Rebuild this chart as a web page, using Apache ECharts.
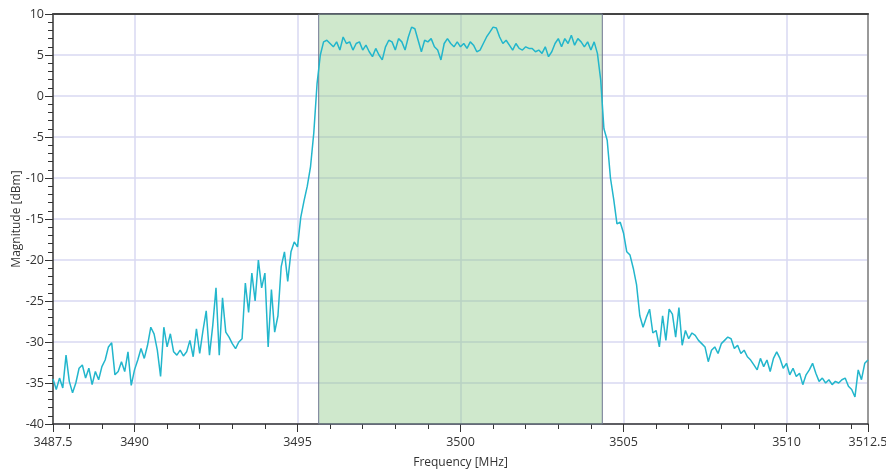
<!DOCTYPE html>
<html>
<head>
<meta charset="utf-8">
<title>Spectrum</title>
<script src="https://cdn.jsdelivr.net/npm/echarts@6/dist/echarts.min.js"></script>
<style>
  html, body { margin: 0; padding: 0; background: #fff; }
  #chart { width: 886px; height: 470px; }
</style>
</head>
<body>
<div id="chart"></div>
<script>
// sweep: start frequency and step in MHz
var freqStart = 3487.5;
var freqStep = 0.1;

var magnitude = [
    -34.5, -35.8, -34.4, -35.6, -31.6, -34.8, -36.2, -35.0, -33.2, -32.8,
    -34.4, -33.2, -35.2, -33.6, -34.6, -33.0, -32.2, -30.6, -30.1, -34.0,
    -33.6, -32.4, -33.6, -31.2, -35.3, -33.4, -32.2, -30.8, -32.0, -30.4,
    -28.2, -29.0, -31.0, -34.2, -28.2, -30.6, -29.0, -31.2, -31.6, -31.0,
    -31.7, -31.2, -29.8, -31.8, -28.4, -31.4, -28.6, -26.2, -31.6, -28.0,
    -23.4, -31.6, -24.6, -28.8, -29.4, -30.2, -30.8, -30.0, -29.6, -22.8,
    -26.4, -21.6, -25.0, -20.0, -23.4, -21.6, -30.6, -23.6, -28.8, -26.8,
    -20.8, -19.0, -22.6, -19.0, -17.8, -18.4, -14.8, -12.8, -11.0, -8.6,
    -4.5, 1.5, 5.0, 6.6, 6.8, 6.4, 6.0, 6.6, 5.6, 7.2,
    6.4, 6.6, 5.6, 6.4, 6.6, 5.6, 6.2, 5.4, 4.8, 5.8,
    5.0, 4.4, 6.0, 6.8, 6.6, 5.6, 7.0, 6.6, 5.6, 7.2,
    8.4, 8.2, 6.8, 5.4, 6.8, 6.6, 7.0, 6.0, 5.6, 4.4,
    6.4, 7.0, 6.4, 6.0, 6.6, 6.0, 6.4, 5.8, 6.6, 6.2,
    5.4, 5.6, 6.4, 7.2, 7.8, 8.4, 8.3, 7.2, 6.4, 6.8,
    6.2, 5.6, 6.4, 5.8, 5.6, 6.0, 5.8, 5.8, 5.4, 5.6,
    5.2, 6.0, 4.8, 5.4, 6.4, 7.0, 6.0, 7.0, 6.4, 7.4,
    6.2, 7.0, 6.6, 6.0, 6.6, 5.6, 6.6, 5.2, 2.0, -4.0,
    -5.4, -10.0, -12.6, -15.6, -15.4, -16.7, -19.0, -19.4, -21.0, -23.0,
    -26.8, -28.2, -27.0, -26.0, -28.9, -28.6, -30.6, -26.8, -29.8, -26.0,
    -26.6, -29.4, -25.8, -30.4, -28.6, -29.6, -28.9, -29.2, -29.8, -30.2,
    -30.6, -32.4, -31.0, -30.6, -31.4, -30.2, -29.8, -29.4, -29.6, -30.8,
    -30.4, -31.4, -31.0, -31.8, -32.2, -32.8, -33.4, -32.0, -33.0, -32.2,
    -33.6, -32.0, -31.2, -32.0, -33.2, -32.6, -34.0, -33.2, -34.2, -33.8,
    -35.2, -34.0, -33.4, -32.6, -33.8, -34.8, -34.4, -35.0, -34.6, -35.2,
    -34.8, -35.0, -34.6, -34.4, -35.4, -35.8, -36.7, -33.4, -34.6, -32.6,
    -32.2
];

// occupied channel band (MHz)
var bandEdges = [3495.65, 3504.35];

// axis ticks
var xLabelValues = [3487.5, 3490, 3495, 3500, 3505, 3510, 3512.5];
var xMinorValues = [3488, 3489, 3490, 3491, 3492, 3493, 3494, 3495, 3496, 3497, 3498, 3499, 3500,
    3501, 3502, 3503, 3504, 3505, 3506, 3507, 3508, 3509, 3510, 3511, 3512];
var xGridValues = [3490, 3495, 3500, 3505, 3510];

var trace = magnitude.map(function (v, i) {
    return [+(freqStart + i * freqStep).toFixed(2), v];
});

var font = '"Open Sans", "Noto Sans", sans-serif';
var gridColor = '#d8d8f2';

function plain(v) {
    return String(v);
}

var chart = echarts.init(document.getElementById('chart'), null, {renderer: 'canvas'});

var option = {
    animation: false,
    grid: {left: 53, right: 18, top: 14, bottom: 46, containLabel: false, outerBoundsMode: 'none'},
    xAxis: [
        {
            type: 'value',
            min: 3487.5,
            max: 3512.5,
            name: 'Frequency [MHz]',
            nameLocation: 'middle',
            nameGap: 33,
            nameTextStyle: {color: '#333', fontSize: 12, fontFamily: font},
            axisLine: {onZero: false, lineStyle: {color: '#333', width: 1.5}},
            axisTick: {show: true, length: 8, customValues: xLabelValues, lineStyle: {color: '#333'}},
            axisLabel: {customValues: xLabelValues, formatter: plain, color: '#333', fontSize: 12.5, fontFamily: font, margin: 12},
            splitLine: {show: false}
        },
        {
            // minor ticks every 1 MHz
            type: 'value',
            min: 3487.5,
            max: 3512.5,
            position: 'bottom',
            axisLine: {show: false, onZero: false},
            axisTick: {show: true, length: 5, customValues: xMinorValues, lineStyle: {color: '#333'}},
            axisLabel: {show: false, customValues: xMinorValues},
            splitLine: {show: false}
        },
        {
            // vertical grid lines + top frame
            type: 'value',
            min: 3487.5,
            max: 3512.5,
            position: 'top',
            axisLine: {show: true, onZero: false, lineStyle: {color: '#444', width: 2}},
            axisTick: {show: false, customValues: xGridValues},
            axisLabel: {show: false, customValues: xGridValues},
            splitLine: {show: true, lineStyle: {color: gridColor, width: 1.5}}
        }
    ],
    yAxis: [
        {
            type: 'value',
            min: -40,
            max: 10,
            interval: 5,
            name: 'Magnitude [dBm]',
            nameLocation: 'middle',
            nameGap: 30,
            nameMoveOverlap: false,
            nameTextStyle: {color: '#333', fontSize: 12, fontFamily: font},
            axisLine: {show: true, onZero: false, lineStyle: {color: '#333', width: 1.5}},
            axisTick: {show: true, length: 8, lineStyle: {color: '#333'}},
            minorTick: {show: true, splitNumber: 5, length: 5, lineStyle: {color: '#333'}},
            axisLabel: {color: '#333', fontSize: 12.5, fontFamily: font, margin: 9},
            splitLine: {show: true, lineStyle: {color: gridColor, width: 1.5}}
        },
        {
            // right frame
            type: 'value',
            min: -40,
            max: 10,
            interval: 5,
            position: 'right',
            axisLine: {show: true, onZero: false, lineStyle: {color: '#999', width: 2}},
            axisTick: {show: false},
            axisLabel: {show: false},
            splitLine: {show: false}
        }
    ],
    series: [
        {
            type: 'line',
            data: trace,
            showSymbol: false,
            lineStyle: {color: '#22b6cc', width: 1.5},
            z: 2
        },
        {
            // band shading sits above the trace
            type: 'line',
            data: [],
            z: 3,
            markArea: {
                silent: true,
                itemStyle: {color: 'rgba(134, 198, 128, 0.4)', borderColor: '#6e7690', borderWidth: 1},
                data: [[{xAxis: bandEdges[0]}, {xAxis: bandEdges[1]}]]
            }
        }
    ]
};

chart.setOption(option);
</script>
</body>
</html>
